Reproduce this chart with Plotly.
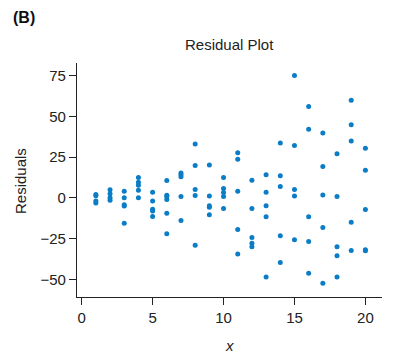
import plotly.graph_objects as go

x_vals = [1]*4 + [2]*4 + [3]*5 + [4]*5 + [5]*5 + [6]*6 + [7]*5 + [8]*5 + [9]*5 + [10]*5 \
    + [11]*5 + [12]*5 + [13]*5 + [14]*5 + [15]*5 + [16]*5 + [17]*5 + [18]*5 + [19]*5 + [20]*5
residuals = [
    2, 1.3, -2, -3.2,
    5, 2.5, 0, -1.5,
    4, 0, -4.3, -5, -15.5,
    12.5, 9.5, 7.8, 4.7, 0,
    3.5, -2, -7, -8, -11.5,
    10.6, 1.6, 0.8, -1, -9.4, -22,
    15.3, 14.2, 13, 0.8, -13.9,
    33, 19.8, 5.1, 1.4, -29,
    20.2, 1.2, -4.9, -5.7, -10.4,
    12.5, 5.7, 3.3, 0.8, -6.5,
    27.6, 23.7, 4.1, -19.4, -34.5,
    10.8, -6.5, -24.3, -27.8, -30,
    14.1, 3.5, -4.9, -11.6, -48.6,
    33.7, 13.5, 6.9, -23.3, -39.6,
    75, 32.1, 5.1, 1.2, -25.7,
    56, 42.1, -11.6, -26.8, -46.2,
    39.8, 19.2, 1.8, -18.2, -52.3,
    27, 0.8, -30, -35.5, -48.6,
    59.8, 44.9, 34.9, -14.9, -32.3,
    30.4, 17, -7.1, -31.9, -32.5,
]
x_ticks = [0, 5, 10, 15, 20]
y_ticks = [-50, -25, 0, 25, 50, 75]

font_family = "Liberation Sans, Arial, sans-serif"
axis_color = "#222222"

W, H = 397, 356
L, R, T, B = 77, 15, 63, 59
plot_w = W - L - R
plot_h = H - T - B


def px_x(p):
    return (p - L) / plot_w


def px_y(p):
    return 1 - (p - T) / plot_h


fig = go.Figure(go.Scatter(
    x=x_vals, y=residuals, mode="markers",
    marker=dict(color="#0b7dc6", size=5),
    hoverinfo="x+y",
))

fig.update_layout(
    width=W, height=H,
    margin=dict(l=L, r=R, t=T, b=B),
    paper_bgcolor="white", plot_bgcolor="white",
    showlegend=False,
    font=dict(family=font_family, size=15, color=axis_color),
    xaxis=dict(
        range=[-0.33, 21.17], tickvals=x_ticks, showgrid=False, zeroline=False,
        showline=True, linecolor=axis_color, linewidth=1.2,
        ticks="outside", ticklen=7, tickwidth=1.2, tickcolor=axis_color,
        tickfont=dict(size=15), automargin=False,
    ),
    yaxis=dict(
        range=[-60.8, 82.7], tickvals=y_ticks, showgrid=False, zeroline=False,
        showline=True, linecolor=axis_color, linewidth=1.2,
        ticks="outside", ticklen=7, tickwidth=1.2, tickcolor=axis_color,
        tickfont=dict(size=15), automargin=False,
    ),
    annotations=[
        dict(text="<b>(B)</b>", x=px_x(11), y=px_y(17), xref="paper", yref="paper",
             xanchor="left", yanchor="middle", showarrow=False,
             font=dict(size=16, color="#111111")),
        dict(text="Residual Plot", x=px_x(229.5), y=px_y(44), xref="paper", yref="paper",
             xanchor="center", yanchor="middle", showarrow=False,
             font=dict(size=15, color="#222222")),
        dict(text="Residuals", x=px_x(20), y=px_y(181), xref="paper", yref="paper",
             xanchor="center", yanchor="middle", showarrow=False, textangle=-90,
             font=dict(size=15, color="#222222")),
        dict(text="<i>x</i>", x=px_x(229.5), y=px_y(345), xref="paper", yref="paper",
             xanchor="center", yanchor="middle", showarrow=False,
             font=dict(size=15, color="#222222")),
    ],
)

fig.write_html("out.html", config={"displayModeBar": False},
               post_script="document.body.style.margin='0px';")
